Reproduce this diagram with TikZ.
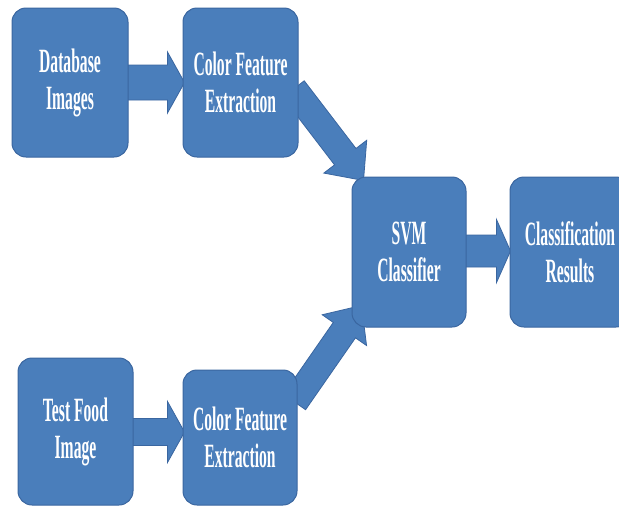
\documentclass[tikz,border=0pt]{standalone}
\usepackage{fontspec}
\newfontfamily\boxfont[FakeStretch=0.46]{Liberation Serif}
\usetikzlibrary{calc}
\definecolor{boxblue}{HTML}{4A7EBB}
\definecolor{boxedge}{HTML}{3A66A0}
\tikzset{
  blockbox/.style={draw=boxedge, line width=1pt, fill=boxblue, rounded corners=14pt,
    minimum width=#1, inner sep=0pt, align=center, text=white,
    font=\boxfont\bfseries\fontsize{34}{37}\selectfont},
  arrowfill/.style={fill=boxblue, draw=boxedge, line width=0.8pt, line join=miter}
}
\newcommand\blockarr[5]{%
  \coordinate (hb) at ($(#2)!#5!(#1)$);
  \path[arrowfill] ($(#1)!#3!90:(#2)$) -- ($(hb)!#3!90:(#2)$) -- ($(hb)!#4!90:(#2)$) -- (#2)
    -- ($(hb)!#4!-90:(#2)$) -- ($(hb)!#3!-90:(#2)$) -- ($(#1)!#3!-90:(#2)$) -- cycle;
}
\begin{document}
\begin{tikzpicture}[x=1pt,y=-1pt]
\useasboundingbox (0,0) rectangle (619,515);
% node geometry (for anchors)
\path
 node[blockbox=116pt, minimum height=149pt, draw=none, fill=none] (db)  at (70,82.5) {}
 node[blockbox=115pt, minimum height=149pt, draw=none, fill=none] (cf1) at (240.5,82.5) {}
 node[blockbox=114pt, minimum height=150pt, draw=none, fill=none] (svm) at (409,252) {}
 node[blockbox=120pt, minimum height=150pt, draw=none, fill=none] (cr)  at (570,252) {}
 node[blockbox=115pt, minimum height=147pt, draw=none, fill=none] (tf)  at (75.5,431.5) {}
 node[blockbox=114pt, minimum height=135pt, draw=none, fill=none] (cf2) at (240,437.5) {};
% connector end points
\coordinate (a1s) at ($(db.east)+(-6,0)$);
\coordinate (a1e) at ($(cf1.west)+(2,0)$);
\coordinate (a2s) at ($(cf1.east)+(-5,6.5)$);
\coordinate (a2e) at ($(svm.north west)+(12,4)$);
\coordinate (a3s) at ($(tf.east)+(-6,0.5)$);
\coordinate (a3e) at ($(cf2.west)+(2,-5.5)$);
\coordinate (a4s) at ($(cf2.east)+(-3,-35.5)$);
\coordinate (a4e) at ($(svm.south west)+(10,-22)$);
\coordinate (a5s) at ($(svm.east)+(-6,-1)$);
\coordinate (a5e) at ($(cr.west)+(1,-1)$);
% block arrows
\blockarr{a1s}{a1e}{17.5pt}{30.5pt}{17pt}
\blockarr{a2s}{a2e}{13.5pt}{27pt}{30pt}
\blockarr{a3s}{a3e}{13.5pt}{30.5pt}{17pt}
\blockarr{a4s}{a4e}{13.5pt}{27pt}{30pt}
\blockarr{a5s}{a5e}{16pt}{31.5pt}{14pt}
% boxes
\node[blockbox=116pt, minimum height=149pt] at (db)  {Database\\Images};
\node[blockbox=115pt, minimum height=149pt] at (cf1) {Color Feature\\Extraction};
\node[blockbox=114pt, minimum height=150pt] at (svm) {SVM\\Classifier};
\node[blockbox=120pt, minimum height=150pt] at (cr)  {Classification\\Results};
\node[blockbox=115pt, minimum height=147pt] at (tf)  {Test Food\\Image};
\node[blockbox=114pt, minimum height=135pt] at (cf2) {Color Feature\\Extraction};
\end{tikzpicture}
\end{document}
